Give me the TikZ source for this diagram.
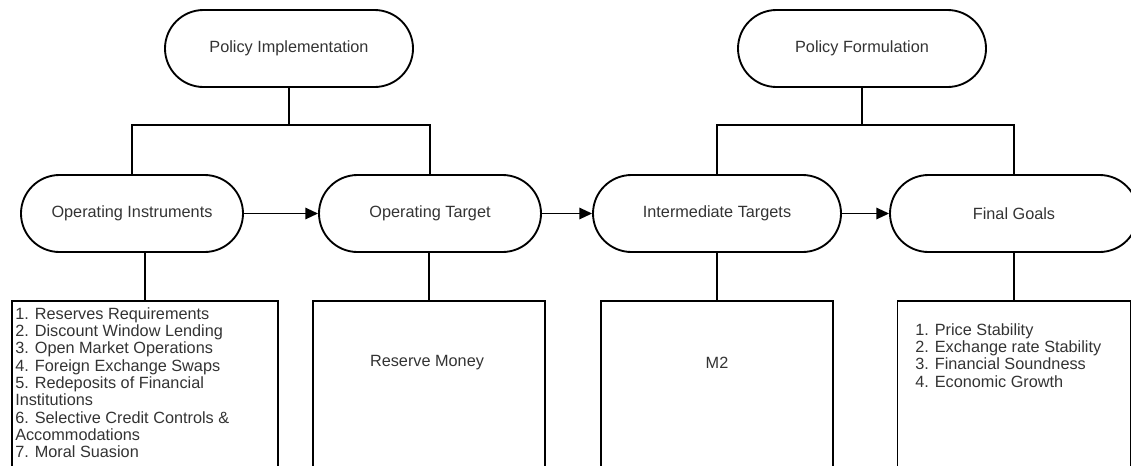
\documentclass[tikz,border=0pt]{standalone}
\usepackage{fontspec}
\setmainfont{Liberation Sans}
\usetikzlibrary{shapes.misc,arrows.meta}
\begin{document}
\begin{tikzpicture}[x=0.75pt,y=-0.75pt,
  stad/.style={rounded rectangle, draw, line width=1.4pt, minimum height=57.75pt, inner sep=0pt, text=black!80, font=\fontsize{12.2}{13}\selectfont},
  pbox/.style={rectangle, draw, line width=1.4pt, anchor=north, minimum height=150pt, inner sep=0pt},
  link/.style={line width=1.4pt},
  arr/.style={line width=1.4pt, -{Triangle[length=9.5pt,width=8.5pt]}},
  txt/.style={text=black!80, font=\fontsize{12.2}{13}\selectfont, inner sep=0pt}]
\useasboundingbox (0,0) rectangle (1131,465);
% stadiums
\node[stad, minimum width=186pt] (PI) at (289,48.5) {Policy Implementation};
\node[stad, minimum width=186pt] (PF) at (862,48.5) {Policy Formulation};
\node[stad, minimum width=166.5pt] (OI) at (132,213.5) {Operating Instruments};
\node[stad, minimum width=166.5pt] (OT) at (430,213.5) {Operating Target};
\node[stad, minimum width=186pt] (IT) at (717,213.5) {Intermediate Targets};
\node[stad, minimum width=186pt] (FG) at (1014,213.5) {Final Goals};
% junctions
\coordinate (jl) at (289,125);
\coordinate (jr) at (862,125);
\draw[link] (PI.south) -- (jl);
\draw[link] (OI.north) |- (jl) -| (OT.north);
\draw[link] (PF.south) -- (jr);
\draw[link] (IT.north) |- (jr) -| (FG.north);
% arrows
\draw[arr] (OI.east) -- (OT.west);
\draw[arr] (OT.east) -- (IT.west);
\draw[arr] (IT.east) -- (FG.west);
% boxes
\node[pbox, minimum width=199.5pt] (B1) at (145,300) {};
\node[pbox, minimum width=174pt] (B2) at (429,300) {};
\node[pbox, minimum width=174pt] (B3) at (717,300) {};
\node[pbox, minimum width=174.75pt] (B4) at (1014,300) {};
\draw[link] (OI.south -| B1.north) -- (B1.north);
\draw[link] (OT.south -| B2.north) -- (B2.north);
\draw[link] (IT.south -| B3.north) -- (B3.north);
\draw[link] (FG.south -| B4.north) -- (B4.north);
% texts
\node[txt, anchor=north west, align=left] (L1) at (15,307) {1. Reserves Requirements\\2. Discount Window Lending\\3. Open Market Operations\\4. Foreign Exchange Swaps\\5. Redeposits of Financial\\Institutions\\6. Selective Credit Controls \&\\Accommodations\\7. Moral Suasion};
\node[txt] (RM) at (427,363) {Reserve Money};
\node[txt] (M2) at (717,363) {M2};
\node[txt, anchor=north west, align=left] (L4) at (915,323) {1. Price Stability\\2. Exchange rate Stability\\3. Financial Soundness\\4. Economic Growth};
\end{tikzpicture}
\end{document}
